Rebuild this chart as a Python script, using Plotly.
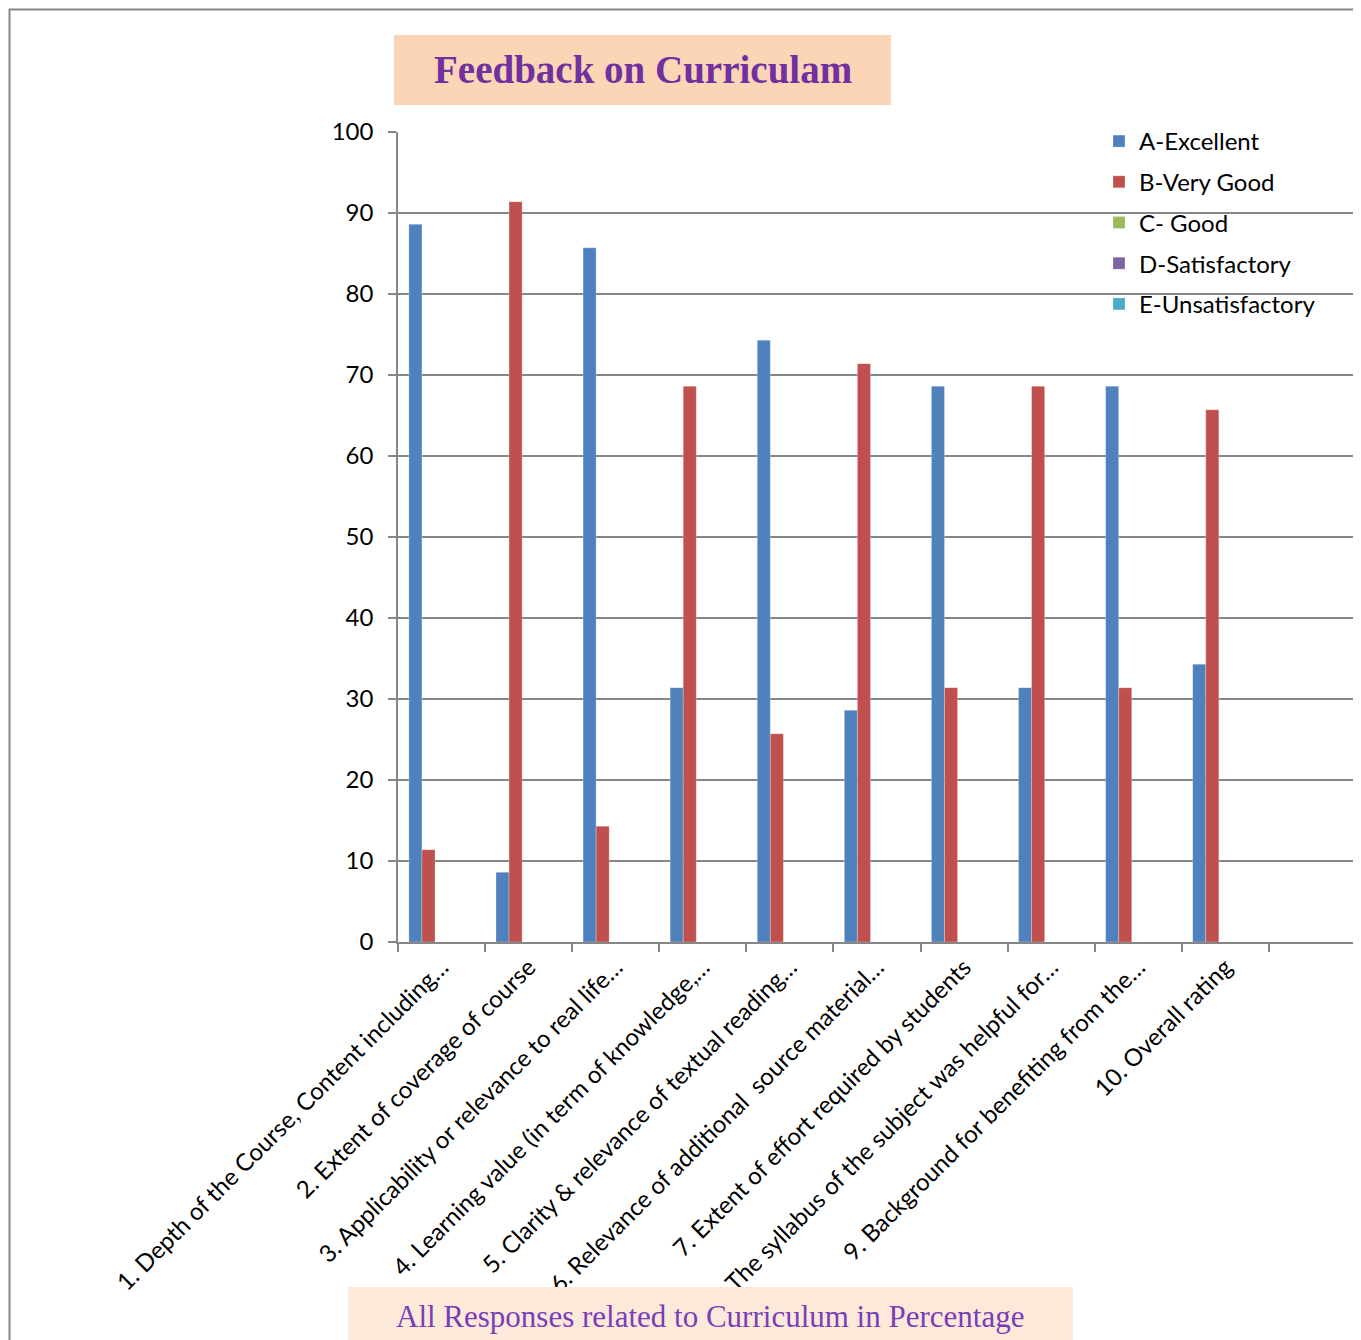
import plotly.graph_objects as go

categories = [
    "1. Depth of the Course, Content including…",
    "2. Extent of coverage of course",
    "3. Applicability or relevance to real life…",
    "4. Learning value (in term of knowledge,…",
    "5. Clarity & relevance of textual reading…",
    "6. Relevance of additional  source material…",
    "7. Extent of effort required by students",
    "8. The syllabus of the subject was helpful for…",
    "9. Background for benefiting from the…",
    "10. Overall rating",
]
extra_category = " "

series_names = ["A-Excellent", "B-Very Good", "C- Good", "D-Satisfactory", "E-Unsatisfactory"]
a_excellent = [88.6, 8.6, 85.7, 31.4, 74.3, 28.6, 68.6, 31.4, 68.6, 34.3]
b_very_good = [11.4, 91.4, 14.3, 68.6, 25.7, 71.4, 31.4, 68.6, 31.4, 65.7]
c_good = [0, 0, 0, 0, 0, 0, 0, 0, 0, 0]
d_satisfactory = [0, 0, 0, 0, 0, 0, 0, 0, 0, 0]
e_unsatisfactory = [0, 0, 0, 0, 0, 0, 0, 0, 0, 0]
series_values = [a_excellent, b_very_good, c_good, d_satisfactory, e_unsatisfactory]
colors = ["#4F81BD", "#C0504D", "#9BBB59", "#8064A2", "#4BACC6"]

# page has an 8px body margin; work in screen pixels and shift
OFF = 8
W, H = 1361 - OFF, 1340 - OFF
L, R, T, B = 398 - OFF, 1356 - OFF, 132 - OFF, 942 - OFF

def px_x(p):
    return (p - OFF - L) / (R - L)

def px_y(p):
    return (B - (p - OFF)) / (B - T)

fig = go.Figure()
for name, vals, col in zip(series_names, series_values, colors):
    fig.add_trace(go.Bar(
        x=categories, y=vals, name=name, legendgroup=name,
        marker=dict(color=col, line=dict(color="rgba(255,255,255,0.5)", width=0.5)),
    ))

axis_font = dict(family="Lato, Carlito, sans-serif", size=24, color="#000000")

fig.update_layout(
    width=W, height=H,
    margin=dict(l=L, r=W - R, t=T, b=H - B, pad=0),
    paper_bgcolor="white", plot_bgcolor="white",
    barmode="group", bargap=0.25, bargroupgap=0,
    showlegend=True,
    legend=dict(
        x=px_x(1099), y=px_y(119), xanchor="left", yanchor="top",
        font=axis_font, bgcolor="rgba(0,0,0,0)", tracegroupgap=6.5,
        itemwidth=30, traceorder="grouped",
    ),
    xaxis=dict(
        type="category", categoryorder="array",
        categoryarray=categories + [extra_category],
        range=[-0.5, 10.5],
        tickangle=-45, tickfont=axis_font,
        ticks="outside", tickson="boundaries", ticklen=8, tickcolor="#868686", tickwidth=1.5,
        showline=True, linecolor="#868686", linewidth=1.5,
        showgrid=False, zeroline=False, automargin=False,
    ),
    yaxis=dict(
        range=[0, 100], dtick=10, tickfont=axis_font,
        ticks="outside", ticklen=8, tickcolor="#868686", tickwidth=1.5,
        ticklabelstandoff=10,
        showline=True, linecolor="#868686", linewidth=1.5,
        showgrid=True, gridcolor="#868686", gridwidth=1.5,
        zeroline=False, automargin=False,
    ),
)

shapes = [
    dict(type="rect", xref="paper", yref="paper",
         x0=px_x(9.5), x1=px_x(1357), y0=px_y(1360), y1=px_y(9.5),
         line=dict(color="#868686", width=2), fillcolor="rgba(0,0,0,0)", layer="below"),
    dict(type="rect", xref="paper", yref="paper",
         x0=px_x(394), x1=px_x(891), y0=px_y(105), y1=px_y(35),
         line=dict(width=0), fillcolor="#FBD5B5", layer="above"),
    dict(type="rect", xref="paper", yref="paper",
         x0=px_x(348), x1=px_x(1073), y0=px_y(1345), y1=px_y(1287),
         line=dict(width=0), fillcolor="#FDE9D9", layer="above"),
]
fig.update_layout(shapes=shapes)

fig.add_annotation(
    text="<b>Feedback on Curriculam</b>", xref="paper", yref="paper",
    x=px_x(643), y=px_y(70), xanchor="center", yanchor="middle", showarrow=False,
    font=dict(family="Liberation Serif, DejaVu Serif, serif", size=39, color="#7030A0"),
)
fig.add_annotation(
    text="All Responses related to Curriculum in Percentage", xref="paper", yref="paper",
    x=px_x(710), y=px_y(1316), xanchor="center", yanchor="middle", showarrow=False,
    font=dict(family="Liberation Serif, DejaVu Serif, serif", size=31, color="#7A3DB8"),
)

fig.write_html("out.html")
